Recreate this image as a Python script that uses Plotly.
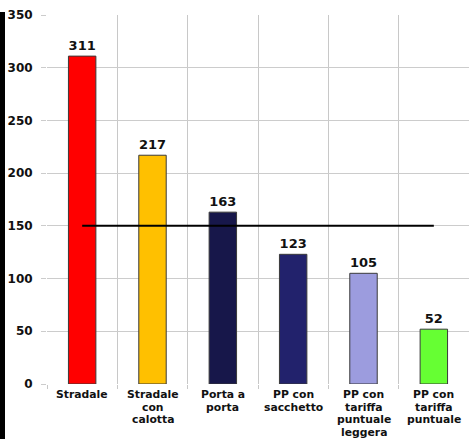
import plotly.graph_objects as go

# Raccolta: kg per abitante per sistema di raccolta
categorie = ["Stradale", "Stradale<br>con<br>calotta", "Porta a<br>porta",
             "PP con<br>sacchetto", "PP con<br>tariffa<br>puntuale<br>leggera",
             "PP con<br>tariffa<br>puntuale"]
valori = [311, 217, 163, 123, 105, 52]
colori = ["#FF0000", "#FFC000", "#17174A", "#22226C", "#9C9CDE", "#66FF33"]
soglia = 150
tick_y = [0, 50, 100, 150, 200, 250, 300, 350]

W, H = 469, 439
ML, MR, MT, MB = 47, 0, 15, 55
pw, ph = W - ML - MR, H - MT - MB

font_b = "DejaVu Sans"
x_pos = list(range(len(categorie)))

fig = go.Figure()
fig.add_trace(go.Bar(
    x=x_pos, y=valori,
    marker=dict(color=colori, line=dict(color="#3a3a3a", width=1)),
    width=0.39,
    text=[str(v) for v in valori], textposition="outside",
    textfont=dict(family=font_b, size=13, color="#111111", weight="bold"),
    cliponaxis=False, hoverinfo="skip",
))
fig.add_trace(go.Scatter(
    x=[x_pos[0], x_pos[-1]], y=[soglia, soglia], mode="lines",
    line=dict(color="#000000", width=2), hoverinfo="skip",
))

bordi = [i - 0.5 for i in range(len(categorie) + 1)]

# category labels, one line each, with tight line spacing
riga_0, passo = 10.5, 12.6
etichette = []
for i, cat in enumerate(categorie):
    for k, riga in enumerate(cat.split("<br>")):
        etichette.append(dict(
            x=x_pos[i], xref="x", y=-(riga_0 + passo * k) / ph, yref="paper",
            text=riga, showarrow=False, xanchor="center", yanchor="middle",
            borderpad=0,
            font=dict(family=font_b, size=10.8, weight="bold", color="#111111"),
        ))

fig.update_layout(
    width=W, height=H, margin=dict(l=ML, r=MR, t=MT, b=MB),
    paper_bgcolor="white", plot_bgcolor="white", showlegend=False,
    font=dict(family=font_b, size=12, color="#111111"),
    xaxis=dict(
        tickvals=x_pos, showticklabels=False, range=[-0.5, len(categorie) - 0.5],
        showgrid=False, ticks="", zeroline=False, showline=False, automargin=False,
        minor=dict(tickvals=bordi, showgrid=True, gridcolor="#c8c8c8", gridwidth=1.4,
                   ticks="outside", ticklen=4, tickcolor="#c8c8c8"),
    ),
    yaxis=dict(
        range=[0, 350], tickvals=tick_y, showgrid=True, gridcolor="#cccccc",
        gridwidth=1, ticks="outside", ticklen=5, tickcolor="#cccccc",
        zeroline=False, showline=False, ticklabelstandoff=6, automargin=False,
        tickfont=dict(family=font_b, size=12, weight="bold", color="#111111"),
    ),
    annotations=etichette,
    shapes=[dict(
        type="rect", xref="paper", yref="paper", layer="above",
        x0=-ML / pw, x1=(5 - ML) / pw,
        y0=-MB / ph, y1=(ph + MT - 12) / ph,
        fillcolor="#000000", line=dict(width=0),
    )],
)

fig.write_html("out.html")
